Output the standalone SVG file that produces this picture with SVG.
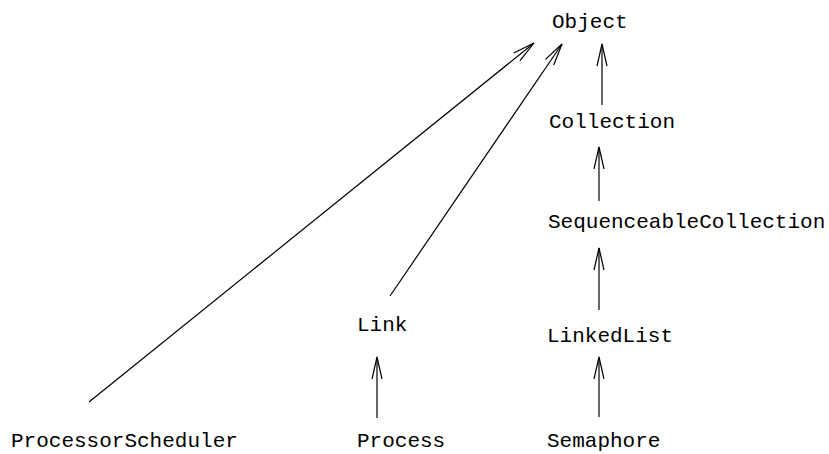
<svg xmlns="http://www.w3.org/2000/svg" width="829" height="454" viewBox="0 0 829 454">
  <style>
    .lbl { font-family: "Liberation Mono", "Courier New", monospace; font-size: 21px; fill: #000; }
    .edge { stroke: #000; stroke-width: 1.2; fill: none; marker-end: url(#open); }
  </style>
  <defs>
    <marker id="open" markerUnits="userSpaceOnUse" markerWidth="30" markerHeight="14" viewBox="-24 -7 26 14" refX="0" refY="0" orient="auto">
      <path d="M-22,-5 L0,0 L-22,5" stroke="#000" stroke-width="1.2" fill="none"/>
    </marker>
  </defs>
  <rect width="829" height="454" fill="#fff"/>

  <g id="connectors">
    <line class="edge" x1="602" y1="105" x2="602" y2="44"/>
    <line class="edge" x1="599" y1="201" x2="599" y2="147"/>
    <line class="edge" x1="599" y1="310" x2="599" y2="248"/>
    <line class="edge" x1="599" y1="417" x2="599" y2="357"/>
    <line class="edge" x1="377" y1="418" x2="377" y2="357"/>
    <line class="edge" x1="390" y1="296" x2="562" y2="44"/>
    <line class="edge" x1="89" y1="402" x2="534" y2="43"/>
  </g>

  <g id="object"><text class="lbl" x="552" y="28">Object</text></g>
  <g id="collection"><text class="lbl" x="549" y="128">Collection</text></g>
  <g id="sequenceable-collection"><text class="lbl" x="548" y="228">SequenceableCollection</text></g>
  <g id="linked-list"><text class="lbl" x="547" y="342">LinkedList</text></g>
  <g id="semaphore"><text class="lbl" x="547" y="447">Semaphore</text></g>
  <g id="link"><text class="lbl" x="357" y="331">Link</text></g>
  <g id="process"><text class="lbl" x="357" y="447">Process</text></g>
  <g id="processor-scheduler"><text class="lbl" x="11" y="447">ProcessorScheduler</text></g>
</svg>
